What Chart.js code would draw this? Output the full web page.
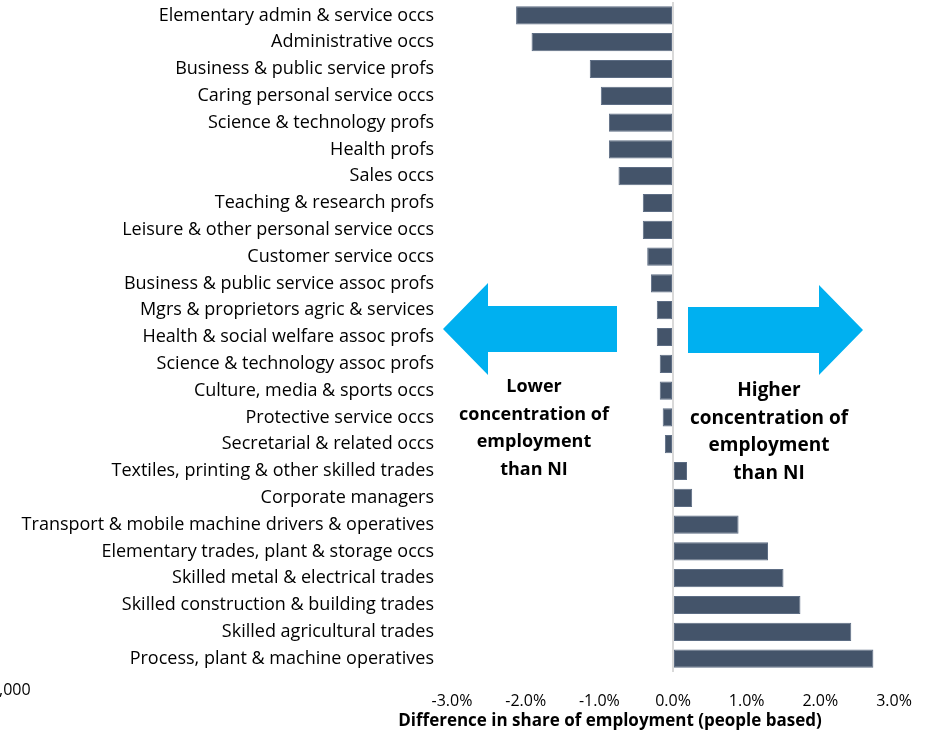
<!DOCTYPE html>
<html>
<head>
<meta charset="utf-8">
<script src="https://cdn.jsdelivr.net/npm/chart.js@4"></script>
<style>
html,body{margin:0;padding:0;background:#fff;}
#wrap{position:relative;width:927px;height:733px;}
</style>
</head>
<body>
<div id="wrap"><canvas id="c" width="927" height="733"></canvas></div>
<script>
const categories = [
  "Elementary admin & service occs",
  "Administrative occs",
  "Business & public service profs",
  "Caring personal service occs",
  "Science & technology profs",
  "Health profs",
  "Sales occs",
  "Teaching & research profs",
  "Leisure & other personal service occs",
  "Customer service occs",
  "Business & public service assoc profs",
  "Mgrs & proprietors agric & services",
  "Health & social welfare assoc profs",
  "Science & technology assoc profs",
  "Culture, media & sports occs",
  "Protective service occs",
  "Secretarial & related occs",
  "Textiles, printing & other skilled trades",
  "Corporate managers",
  "Transport & mobile machine drivers & operatives",
  "Elementary trades, plant & storage occs",
  "Skilled metal & electrical trades",
  "Skilled construction & building trades",
  "Skilled agricultural trades",
  "Process, plant & machine operatives"
];
const differences = [
  -2.13, -1.92, -1.13, -0.98, -0.87, -0.87, -0.74, -0.41, -0.41, -0.35,
  -0.30, -0.22, -0.22, -0.18, -0.18, -0.14, -0.11,
  0.19, 0.26, 0.89, 1.29, 1.50, 1.73, 2.42, 2.72
];
const xTickValues = [-3, -2, -1, 0, 1, 2, 3];
const axisTitle = "Difference in share of employment (people based)";
const leftNote = ["Lower", "concentration of", "employment", "than NI"];
const rightNote = ["Higher", "concentration of", "employment", "than NI"];
const strayText = ",000";

const FONT = "'Open Sans', Lato, sans-serif";

const annotations = {
  id: 'annotations',
  afterDraw(chart) {
    const ctx = chart.ctx;
    ctx.save();
    ctx.fillStyle = '#00B0F0';
    // left arrow
    ctx.beginPath();
    ctx.moveTo(443, 329);
    ctx.lineTo(488, 283);
    ctx.lineTo(488, 306);
    ctx.lineTo(617, 306);
    ctx.lineTo(617, 352);
    ctx.lineTo(488, 352);
    ctx.lineTo(488, 375);
    ctx.closePath();
    ctx.fill();
    // right arrow
    ctx.beginPath();
    ctx.moveTo(863, 330);
    ctx.lineTo(819, 285);
    ctx.lineTo(819, 307);
    ctx.lineTo(688, 307);
    ctx.lineTo(688, 353);
    ctx.lineTo(819, 353);
    ctx.lineTo(819, 375);
    ctx.closePath();
    ctx.fill();
    // notes
    ctx.fillStyle = '#000';
    ctx.textAlign = 'center';
    ctx.textBaseline = 'middle';
    ctx.font = "bold 18px " + FONT;
    leftNote.forEach((t, i) => ctx.fillText(t, 534, 387 + i * 27.5));
    ctx.font = "bold 19px " + FONT;
    rightNote.forEach((t, i) => ctx.fillText(t, 769, 391 + i * 27.5));
    // axis title
    ctx.font = "bold 17px " + FONT;
    ctx.fillText(axisTitle, 610, 721);
    // stray text
    ctx.font = "16px " + FONT;
    ctx.textAlign = 'left';
    ctx.fillText(strayText, -1, 690);
    ctx.restore();
  }
};

new Chart(document.getElementById('c'), {
  type: 'bar',
  data: {
    labels: categories,
    datasets: [{
      data: differences,
      backgroundColor: '#44546A',
      borderColor: '#5d6d84',
      borderWidth: 1,
      borderSkipped: false,
      barPercentage: 0.68,
      categoryPercentage: 1.0
    }]
  },
  options: {
    indexAxis: 'y',
    responsive: false,
    animation: false,
    layout: { padding: { top: 2, right: 33, bottom: 0, left: 0 } },
    plugins: {
      legend: { display: false },
      tooltip: { enabled: false }
    },
    scales: {
      x: {
        min: -3, max: 3,
        afterBuildTicks(scale) { scale.ticks = xTickValues.map(v => ({ value: v })); },
        afterFit(scale) {
          scale.height = 61;
          scale.paddingLeft = 0; scale.paddingRight = 0;
          scale.paddingTop = 0; scale.paddingBottom = 0;
        },
        border: { display: false },
        grid: {
          drawTicks: false,
          color: ctx => (ctx.tick && ctx.tick.value === 0) ? '#d9d9d9' : 'rgba(0,0,0,0)',
          lineWidth: 2
        },
        ticks: {
          padding: 20,
          color: '#000',
          font: { family: FONT, size: 16 },
          callback: v => v.toFixed(1) + '%'
        }
      },
      y: {
        afterFit(scale) {
          scale.width = 452;
          scale.paddingTop = 0; scale.paddingBottom = 0;
          scale.paddingLeft = 0; scale.paddingRight = 0;
        },
        border: { display: false },
        grid: { display: false, drawTicks: false },
        ticks: {
          padding: 18,
          autoSkip: false,
          color: '#000',
          font: { family: FONT, size: 18 }
        }
      }
    }
  },
  plugins: [annotations]
});
</script>
</body>
</html>
